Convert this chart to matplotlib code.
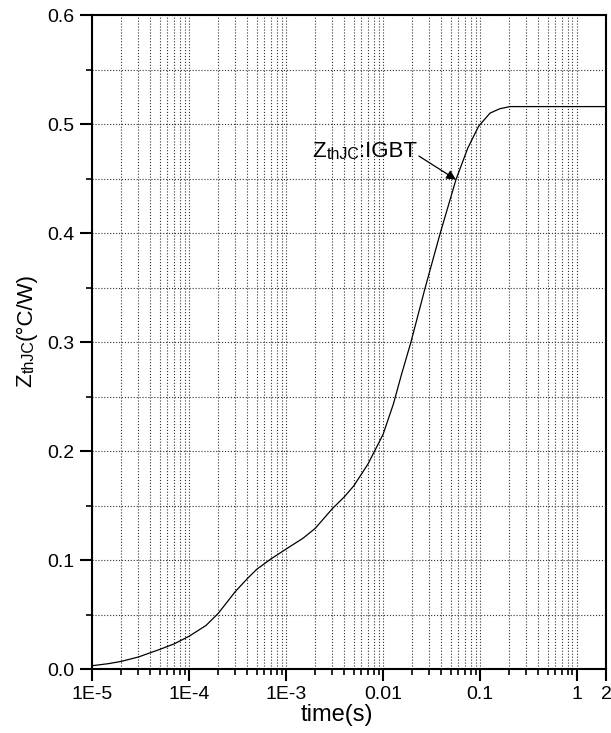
import numpy as np
import matplotlib
matplotlib.use('Agg')
import matplotlib.pyplot as plt
from matplotlib.ticker import FixedLocator, LogLocator, MultipleLocator, NullFormatter

plt.rcParams['font.family'] = ['Liberation Sans', 'DejaVu Sans']

# Z_thJC curve
time_s = [1e-5, 1.5e-5, 2e-5, 3e-5, 5e-5, 7e-5, 1e-4, 1.5e-4, 2e-4, 2.5e-4, 3e-4,
          4e-4, 5e-4, 7e-4, 1e-3, 1.5e-3, 2e-3, 3e-3, 4e-3, 5e-3, 7e-3, 1e-2,
          0.0128, 0.0155, 0.0193, 0.0271, 0.0387, 0.0566, 0.075, 0.097, 0.127,
          0.16, 0.204, 0.3, 0.5, 1.0, 2.0]
zth = [0.003, 0.005, 0.007, 0.011, 0.018, 0.023, 0.030, 0.040, 0.051, 0.062,
       0.071, 0.083, 0.0915, 0.101, 0.110, 0.120, 0.129, 0.147, 0.158, 0.168,
       0.188, 0.215, 0.243, 0.270, 0.299, 0.349, 0.399, 0.449, 0.478, 0.498,
       0.510, 0.514, 0.516, 0.516, 0.516, 0.516, 0.516]

xticks = [1e-5, 1e-4, 1e-3, 1e-2, 0.1, 1, 2]
xticklabels = ['1E-5', '1E-4', '1E-3', '0.01', '0.1', '1', '2']
yticks = [0.0, 0.1, 0.2, 0.3, 0.4, 0.5, 0.6]

fig = plt.figure(figsize=(6.11, 7.33), dpi=100)
ax = fig.add_axes([0.1506, 0.0873, 0.8414, 0.8922])

ax.plot(time_s, zth, color='black', lw=0.9)

ax.set_xscale('log')
ax.set_xlim(1e-5, 2)
ax.set_ylim(0, 0.6)
ax.xaxis.set_major_locator(FixedLocator(xticks))
ax.set_xticklabels(xticklabels)
ax.xaxis.set_minor_locator(LogLocator(base=10, subs=np.arange(2, 10)))
ax.xaxis.set_minor_formatter(NullFormatter())
ax.set_yticks(yticks)
ax.set_yticklabels(['%.1f' % v for v in yticks])
ax.yaxis.set_minor_locator(MultipleLocator(0.05))

ax.tick_params(which='major', direction='out', length=8.5, width=1.5,
               labelsize=14, pad=4, top=False, right=False)
ax.tick_params(which='minor', direction='out', length=4, width=1.2,
               top=False, right=False)

ax.grid(which='both', linestyle=':', color='0.2', linewidth=0.8)
for s in ax.spines.values():
    s.set_linewidth(1.5)

ax.set_xlabel('time(s)', fontsize=17, va='top')
ax.xaxis.set_label_coords(0.476, -0.054)

# y label: Z with small "thJC" on the baseline, then units
big, small = 16, 11.5
t1 = fig.text(0.060, 0.4727, 'Z', rotation=90, fontsize=big, ha='right', va='bottom')
t2 = ax.annotate('thJC', xy=(1, 1), xycoords=t1, rotation=90, fontsize=small,
                 ha='right', va='bottom', annotation_clip=False)
ax.annotate('(°C/W)', xy=(1, 1), xycoords=t2, rotation=90, fontsize=big,
            ha='right', va='bottom', annotation_clip=False)

# annotation of the curve
a1 = ax.annotate('Z', xy=(0.00188, 0.4697), fontsize=big, ha='left', va='baseline')
a2 = ax.annotate('thJC', xy=(1, 0), xycoords=a1, fontsize=small, ha='left', va='bottom')
ax.annotate(':IGBT', xy=(1, 0), xycoords=a2, fontsize=big, ha='left', va='bottom')
ax.annotate('', xy=(0.0566, 0.449), xytext=(0.0235, 0.4706),
            arrowprops=dict(arrowstyle='-|>', color='black', lw=0.9,
                            mutation_scale=14, shrinkA=0, shrinkB=0))

fig.savefig('out.png', dpi=100)
